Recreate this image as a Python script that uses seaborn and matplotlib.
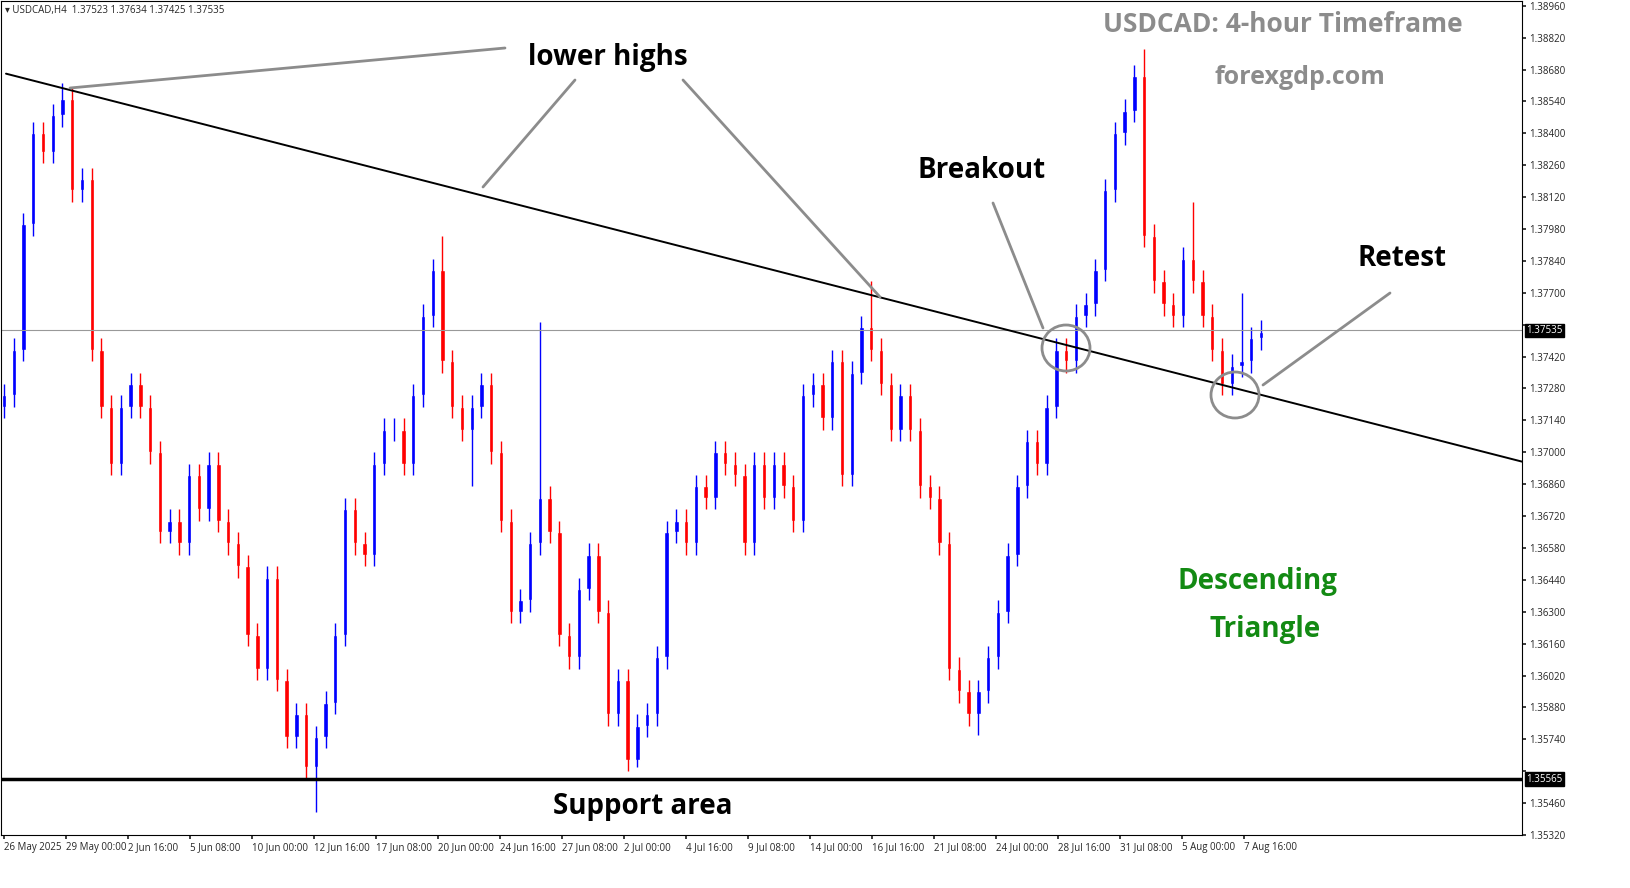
import matplotlib
matplotlib.use("Agg")
import matplotlib.pyplot as plt
import seaborn as sns
import numpy as np
from matplotlib.patches import Ellipse

sns.set_theme(style="white")
plt.rcParams['font.family'] = ['Open Sans', 'DejaVu Sans']

closes = [
1.3725,1.3745,1.3800,1.3840,1.3832,1.3848,1.3855,1.3815,1.3820,
1.3745,1.3720,1.3695,1.3720,1.3730,1.3720,1.3700,1.3665,1.3670,1.3660,
1.3690,1.3675,1.3695,1.3670,1.3660,1.3650,1.3620,1.3605,1.3645,1.3600,
1.3575,1.3585,1.3562,1.3575,1.3590,1.3620,1.3675,1.3660,1.3655,1.3695,
1.3710,1.3710,1.3695,1.3725,1.3760,1.3780,1.3740,1.3720,1.3710,1.3720,
1.3730,1.3700,1.3670,1.3630,1.3635,1.3660,1.3680,1.3665,1.3620,1.3610,
1.3640,1.3655,1.3630,1.3585,1.3600,1.3565,1.3580,1.3585,1.3610,1.3665,
1.3670,1.3660,1.3685,1.3680,1.3700,1.3695,1.3690,1.3660,1.3695,1.3680,
1.3695,1.3685,1.3670,1.3725,1.3730,1.3715,1.3740,1.3690,1.3735,1.3755,
1.3745,1.3730,1.3710,1.3725,1.3710,1.3685,1.3680,1.3660,1.3605,1.3595,
1.3585,1.3595,1.3610,1.3630,1.3655,1.3685,1.3705,1.3695,1.3720,1.3745,
1.3740,1.3760,1.3765,1.3780,1.3815,1.3840,1.3850,1.3865,1.3795,1.3775,
1.3765,1.3760,1.3785,1.3775,1.3760,1.3745,1.3730,1.3738,1.3740,1.3750,1.3753]
first_open = 1.3720
spike_high = {6: 1.3862, 45: 1.3795, 55: 1.3757, 89: 1.3775, 117: 1.3877, 122: 1.3810, 127: 1.3770}
spike_low = {32: 1.3542, 65: 1.3562, 100: 1.3576, 48: 1.3685}
wick = 0.0005
current_price = 1.37535
support_price = 1.35565
trend_start = 1.38662
trend_end = 1.36959
ytick_vals = [1.35320 + 0.0014*k for k in range(27)]
date_labels = ["26 May 2025","29 May 00:00","2 Jun 16:00","5 Jun 08:00","10 Jun 00:00","12 Jun 16:00",
               "17 Jun 08:00","20 Jun 00:00","24 Jun 16:00","27 Jun 08:00","2 Jul 00:00","4 Jul 16:00",
               "9 Jul 08:00","14 Jul 00:00","16 Jul 16:00","21 Jul 08:00","24 Jul 00:00","28 Jul 16:00",
               "31 Jul 08:00","5 Aug 00:00","7 Aug 16:00"]

W, H = 1631, 888
fig = plt.figure(figsize=(W/100, H/100), dpi=100)
ax = fig.add_axes([1/W, 1-835/H, 1521/W, 834/H])
n = len(closes)
step = 1257/(n-1)
x0 = -3/step
x1 = x0 + 1521/step
ax.set_xlim(x0, x1)
ax.set_ylim(1.35426, 1.38981)

opens = [first_open] + closes[:-1]
for i in range(n):
    o, c = opens[i], closes[i]
    hi = spike_high.get(i, max(o, c) + wick)
    lo = spike_low.get(i, min(o, c) - wick)
    col = '#0000ff' if c >= o else '#ff0000'
    ax.vlines(i, lo, hi, color=col, lw=1)
    ax.bar(i, abs(c-o) if abs(c-o) > 1e-5 else 0.00003, bottom=min(o, c), width=0.45, color=col)

ax.axhline(current_price, color='#999999', lw=0.8)
ax.axhline(support_price, color='black', lw=2.5)
ax.plot([x0+5/step, x1], [trend_start, trend_end], color='black', lw=1.4)

ax.yaxis.tick_right()
ax.set_yticks(ytick_vals)
labels = []
for v in ytick_vals:
    if abs(v-current_price) < 0.0006 or abs(v-support_price) < 0.0006:
        labels.append("")
    else:
        labels.append(f"{v:.5f}")
ax.set_yticklabels(labels, fontsize=7)
ax.tick_params(axis='y', length=3, direction='out', right=True, pad=2)
tick_px = [3 + 62.0*k for k in range(len(date_labels))]
ax.set_xticks([x0 + p/step for p in tick_px])
ax.set_xticklabels(date_labels, fontsize=7, ha='left')
ax.tick_params(axis='x', length=3, direction='out', bottom=True, pad=2)
for s in ax.spines.values():
    s.set_color('black'); s.set_linewidth(0.8)

for val in [current_price, support_price]:
    ax.text(1.003, val, f"{val:.5f}", transform=ax.get_yaxis_transform(), fontsize=7, color='white',
            va='center', ha='left', bbox=dict(facecolor='black', edgecolor='black', pad=1))

def F(x, y):
    return (x/W, 1-y/H)

def line(p, q, color='#8c8c8c', lw=2):
    fig.add_artist(plt.Line2D([p[0]/W, q[0]/W], [1-p[1]/H, 1-q[1]/H], color=color, lw=lw))

line((505, 48), (70, 88)); line((575, 80), (483, 187)); line((683, 80), (880, 297))
line((993, 203), (1043, 328)); line((1390, 293), (1263, 385))
for cx, cy in [(1066, 348), (1235, 395)]:
    fig.add_artist(Ellipse(F(cx, cy), 48/W, 46/H, fill=False, ec='#8c8c8c', lw=2, transform=fig.transFigure))

def txt(x, y, s, size, color='black'):
    fig.text(*F(x, y), s, fontsize=size, fontweight='bold', color=color, ha='center', va='center')

txt(608, 57, "lower highs", 20)
txt(982, 170, "Breakout", 20)
txt(1402, 258, "Retest", 20)
txt(643, 806, "Support area", 20)
txt(1258, 582, "Descending", 20, '#138a13')
txt(1265, 630, "Triangle", 20, '#138a13')
txt(1283, 25, "USDCAD: 4-hour Timeframe", 19, '#8c8c8c')
txt(1300, 77, "forexgdp.com", 18, '#8c8c8c')
fig.text(*F(5, 10), "\u25be USDCAD,H4  1.37523 1.37634 1.37425 1.37535", fontsize=7, va='center', ha='left')

fig.savefig("out.png", dpi=100)
